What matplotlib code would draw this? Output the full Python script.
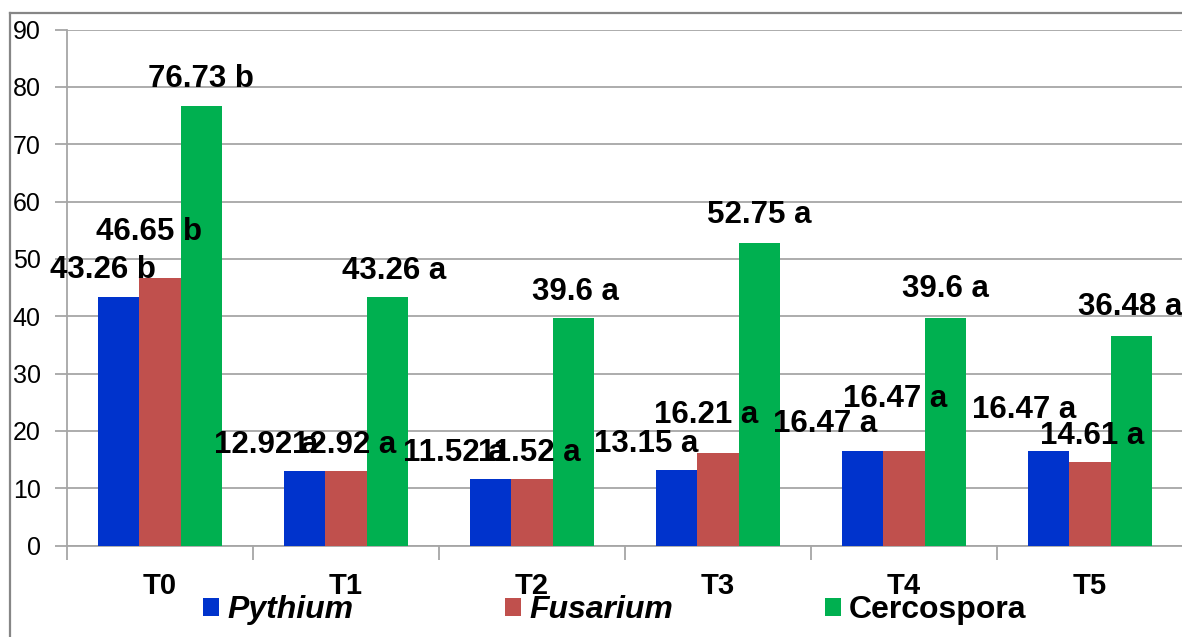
import numpy as np
import matplotlib
matplotlib.use("Agg")
import matplotlib.pyplot as plt
from matplotlib.patches import Patch
from matplotlib.lines import Line2D

# data
treatments = ["T0", "T1", "T2", "T3", "T4", "T5"]
series_names = ["Pythium", "Fusarium", "Cercospora"]
pythium = [43.26, 12.92, 11.52, 13.15, 16.47, 16.47]
fusarium = [46.65, 12.92, 11.52, 16.21, 16.47, 14.61]
cercospora = [76.73, 43.26, 39.6, 52.75, 39.6, 36.48]
pythium_letters = ["b", "a", "a", "a", "a", "a"]
fusarium_letters = ["b", "a", "a", "a", "a", "a"]
cercospora_letters = ["b", "a", "a", "a", "a", "a"]

colors = ["#0033CC", "#C0504D", "#00B050"]

# label offsets in pixels from the top of each bar (labels were moved by hand in the original)
label_offsets = [
    [(-15, 19), (-38, 18), (-36, 18), (-30, 18), (-37, 19), (-24, 33)],
    [(-11, 38), (-2, 18), (-3, 18), (-12, 30), (-9, 44), (2, 18)],
    [(-1, 19), (6, 18), (2, 18), (0, 20), (0, 21), (-1, 21)],
]

plt.rcParams['font.family'] = ['Liberation Sans', 'DejaVu Sans']

W, H = 1182, 637
fig = plt.figure(figsize=(W / 100, H / 100), dpi=100)
ax = fig.add_axes([67 / W, (H - 545.5) / H, 1116 / W, 516 / H])

x = np.arange(len(treatments))
bar_w = 0.224
step = 0.224
all_vals = [pythium, fusarium, cercospora]
all_letters = [pythium_letters, fusarium_letters, cercospora_letters]

for i, (vals, letters, col) in enumerate(zip(all_vals, all_letters, colors)):
    pos = x + (i - 1) * step
    ax.bar(pos, vals, bar_w, color=col, linewidth=0, zorder=3)
    for j, (p, v, let) in enumerate(zip(pos, vals, letters)):
        dx, dy = label_offsets[i][j]
        ax.annotate(f"{v:g} {let}", xy=(p, v), xytext=(dx, dy),
                    textcoords='offset pixels', ha='center', va='baseline',
                    fontsize=22.5, fontweight='bold', color='black',
                    annotation_clip=False, zorder=5)

ax.set_xlim(-0.5, 5.5)
ax.set_ylim(0, 90)
ax.set_yticks(np.arange(0, 91, 10))
ax.yaxis.grid(True, color='#A6A6A6', linewidth=1.3, zorder=0)
ax.set_axisbelow(True)

ax.set_xticks(x)
ax.set_xticklabels(treatments, fontsize=21, fontweight='bold')
ax.set_xticks(np.arange(-0.5, 6.0, 1.0), minor=True)
ax.tick_params(axis='x', which='major', length=0, pad=19)
ax.tick_params(axis='x', which='minor', length=10, width=1.3, color='#A6A6A6', direction='out')
ax.tick_params(axis='y', length=9, width=1.3, color='#A6A6A6', pad=10, labelsize=18)

for s in ['top', 'right']:
    ax.spines[s].set_visible(False)
for s in ['left', 'bottom']:
    ax.spines[s].set_color('#A6A6A6')
    ax.spines[s].set_linewidth(1.3)

# legend, one entry per column as in the original
fs = 23
fs_px = fs / 0.72
legend_x = [203, 505, 825]
for name, col, lx in zip(series_names, colors, legend_x):
    leg = fig.legend(handles=[Patch(facecolor=col)], labels=[name],
                     loc='center left', bbox_to_anchor=(lx / W, 1 - 610 / H),
                     frameon=False, borderpad=0, borderaxespad=0,
                     handlelength=16 / fs_px, handleheight=16 / fs_px,
                     handletextpad=8 / fs_px,
                     prop={'size': fs, 'weight': 'bold'})
    if name != "Cercospora":
        leg.get_texts()[0].set_style('italic')

# chart area border (cut off at the right and bottom in the original)
fig.add_artist(Line2D([10 / W, 10 / W], [0, 1 - 13 / H], transform=fig.transFigure,
                      color='#868686', linewidth=1.6))
fig.add_artist(Line2D([10 / W, 1], [1 - 13 / H, 1 - 13 / H], transform=fig.transFigure,
                      color='#868686', linewidth=1.6))

fig.savefig("out.png", dpi=100)
